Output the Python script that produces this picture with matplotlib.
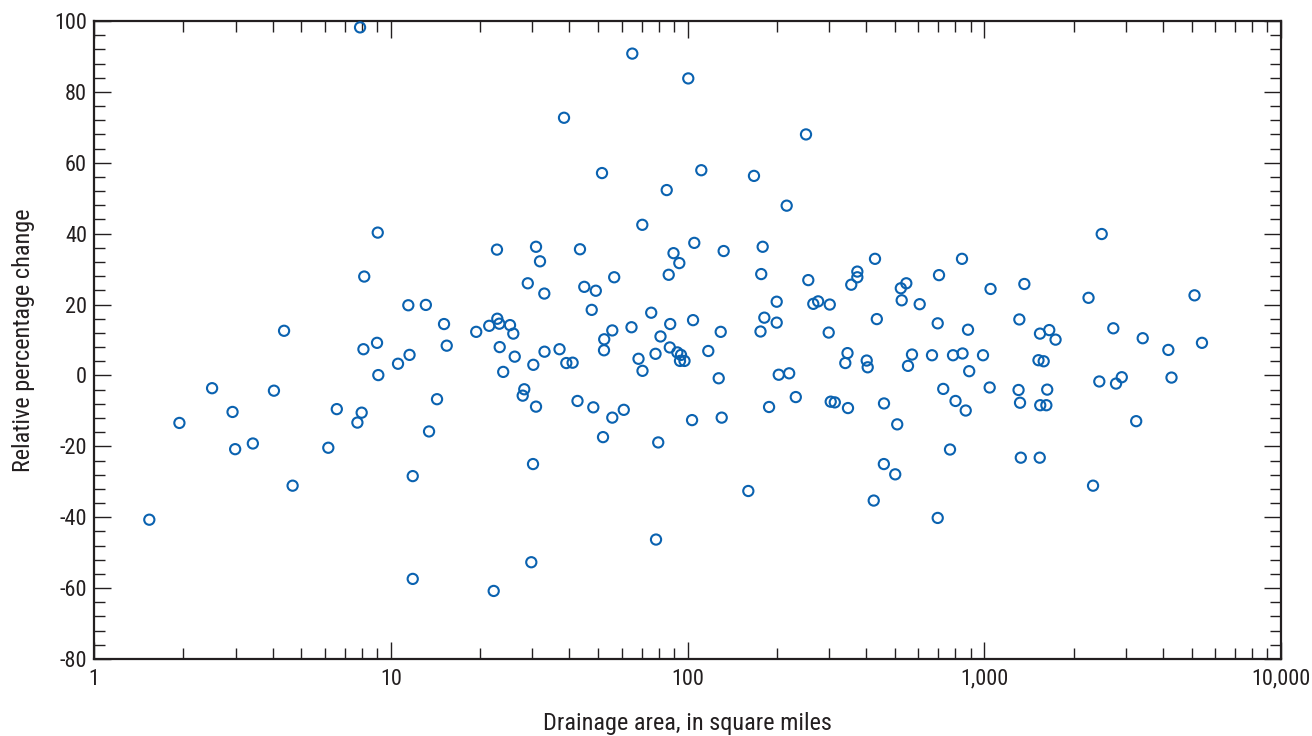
import matplotlib
matplotlib.use("Agg")
import matplotlib.pyplot as plt
from matplotlib.ticker import FixedLocator, FuncFormatter, LogLocator, NullFormatter, MultipleLocator
from matplotlib import font_manager

# Drainage area (square miles)
drainage_area = [
    1.536, 1.94, 2.50, 2.93, 2.99, 3.43, 4.04, 4.37, 4.67, 6.16,
    6.58, 7.72, 7.98, 7.88, 8.14, 8.09, 9.04, 8.99, 9.08, 10.58,
    11.46, 13.13, 15.12, 15.44, 11.57, 14.32, 13.46, 11.86, 11.86, 19.41,
    21.47, 22.23, 22.80, 22.86, 23.22, 25.23, 25.88, 23.29, 26.17, 23.93,
    28.96, 30.87, 31.84, 32.92, 32.97, 37.05, 30.23, 39.05, 41.01, 28.18,
    27.84, 30.87, 30.16, 29.76, 38.36, 43.42, 44.89, 49.09, 47.56, 42.59,
    48.15, 51.51, 56.62, 55.79, 52.40, 52.32, 55.79, 60.99, 51.92, 65.16,
    70.42, 64.76, 68.38, 70.53, 79.68, 78.33, 75.46, 81.10, 78.03, 85.11,
    86.44, 89.71, 93.85, 87.44, 87.17, 92.39, 95.08, 94.34, 97.70, 100.6,
    105.4, 104.4, 103.6, 111.3, 117.5, 127.4, 129.4, 130.4, 132.4, 160.3,
    167.5, 179.2, 177.2, 181.5, 176.2, 188.3, 199.8, 199.8, 203.0, 215.9,
    220.1, 231.7, 250.8, 255.3, 265.4, 275.6, 301.6, 299.1, 303.8, 313.6,
    347.4, 346.1, 340.2, 373.5, 373.5, 356.3, 401.7, 404.8, 428.4, 434.5,
    459.4, 458.9, 424.2, 501.2, 509.0, 523.4, 546.2, 527.0, 606.0, 570.8,
    553.4, 666.7, 704.0, 696.9, 696.9, 727.4, 766.7, 784.7, 845.0, 841.4,
    800.2, 866.1, 881.6, 889.8, 990.4, 1050, 1043, 1365, 1313, 1305,
    1320, 1328, 1538, 1523, 1586, 1541, 1656, 1739, 1630, 1544,
    1619, 2246, 2488, 2326, 2442, 2722, 2780, 2907, 3420, 3251,
    4172, 4276, 5112, 5416,
]

# Relative percentage change
relative_change = [
    -40.7, -13.4, -3.6, -10.3, -20.8, -19.2, -4.3, 12.6, -31.1, -20.4,
    -9.5, -13.3, -10.5, 98.2, 27.9, 7.4, 40.3, 9.2, 0.1, 3.3,
    19.8, 19.9, 14.5, 8.4, 5.8, -6.7, -15.8, -28.4, -57.4, 12.3,
    14.0, -60.8, 35.5, 16.0, 14.6, 14.2, 11.8, 8.0, 5.3, 1.0,
    26.0, 36.3, 32.2, 23.1, 6.7, 7.4, 3.0, 3.5, 3.6, -3.9,
    -5.7, -8.8, -25.0, -52.7, 72.7, 35.6, 25.0, 23.9, 18.5, -7.2,
    -9.0, 57.1, 27.7, 12.7, 10.2, 7.1, -11.9, -9.7, -17.4, 90.8,
    42.5, 13.6, 4.7, 1.3, -18.9, -46.3, 17.7, 11.0, 6.1, 52.3,
    28.4, 34.5, 31.7, 14.5, 7.9, 6.5, 5.8, 4.1, 4.1, 83.8,
    37.4, 15.6, -12.6, 57.9, 6.9, -0.8, 12.3, -11.9, 35.1, -32.6,
    56.3, 36.3, 28.6, 16.3, 12.4, -8.9, 20.8, 14.9, 0.2, 47.9,
    0.6, -6.1, 68.0, 26.9, 20.2, 20.9, 20.0, 12.1, -7.4, -7.6,
    -9.2, 6.3, 3.5, 29.3, 27.7, 25.6, 4.2, 2.3, 32.9, 15.9,
    -7.9, -25.0, -35.3, -27.9, -13.8, 24.6, 26.0, 21.2, 20.1, 5.9,
    2.7, 5.7, 28.3, 14.7, -40.2, -3.8, -20.9, 5.7, 6.2, 32.9,
    -7.2, -9.9, 12.9, 1.2, 5.7, 24.4, -3.4, 25.8, 15.8, -4.1,
    -7.7, -23.2, -23.2, 4.3, 4.0, 11.8, 12.8, 10.1, -4.0, -8.4,
    -8.4, 21.9, 39.9, -31.1, -1.7, 13.3, -2.3, -0.5, 10.5, -12.9,
    7.2, -0.6, 22.6, 9.2,
]

x_tick_values = [1, 10, 100, 1000, 10000]
x_tick_labels = ["1", "10", "100", "1,000", "10,000"]
y_tick_values = [-80, -60, -40, -20, 0, 20, 40, 60, 80, 100]

# font choice
available = {f.name for f in font_manager.fontManager.ttflist}
fam = []
for cand in ["Liberation Sans Narrow", "Roboto Condensed", "Open Sans Condensed", "Roboto"]:
    if cand in available:
        fam.append(cand)
        break
fam.append("DejaVu Sans")
plt.rcParams["font.family"] = fam

text_color = "#231f20"
marker_color = "#0a62b0"

fig = plt.figure(figsize=(13.12, 7.36), dpi=100)
ax = fig.add_axes([94 / 1312, 1 - 659 / 736, (1281 - 94) / 1312, (659 - 21) / 736])

ax.scatter(drainage_area, relative_change, s=54, facecolors="none",
           edgecolors=marker_color, linewidths=1.5, zorder=3)

ax.set_xscale("log")
ax.set_xlim(1, 10000)
ax.set_ylim(-80, 100)

ax.xaxis.set_major_locator(FixedLocator(x_tick_values))
ax.xaxis.set_major_formatter(FuncFormatter(
    lambda v, p: x_tick_labels[x_tick_values.index(int(round(v)))] if int(round(v)) in x_tick_values else ""))
ax.xaxis.set_minor_locator(LogLocator(base=10, subs=range(2, 10), numticks=20))
ax.xaxis.set_minor_formatter(NullFormatter())

ax.yaxis.set_major_locator(FixedLocator(y_tick_values))
ax.yaxis.set_major_formatter(FuncFormatter(lambda v, p: "%d" % v))
ax.yaxis.set_minor_locator(MultipleLocator(4))

ax.tick_params(which="both", direction="in", top=True, right=True, colors=text_color,
               labelsize=16, width=1.0)
ax.tick_params(which="major", length=12)
ax.tick_params(which="minor", length=8)
ax.tick_params(axis="x", which="major", pad=7)
ax.tick_params(axis="y", which="major", pad=5)

for sp in ax.spines.values():
    sp.set_linewidth(1.6)
    sp.set_color(text_color)

ax.set_xlabel("Drainage area, in square miles", fontsize=17.5, color=text_color, labelpad=16)
ax.set_ylabel("Relative percentage change", fontsize=17.5, color=text_color, labelpad=14)

fig.savefig("out.png", dpi=100)
